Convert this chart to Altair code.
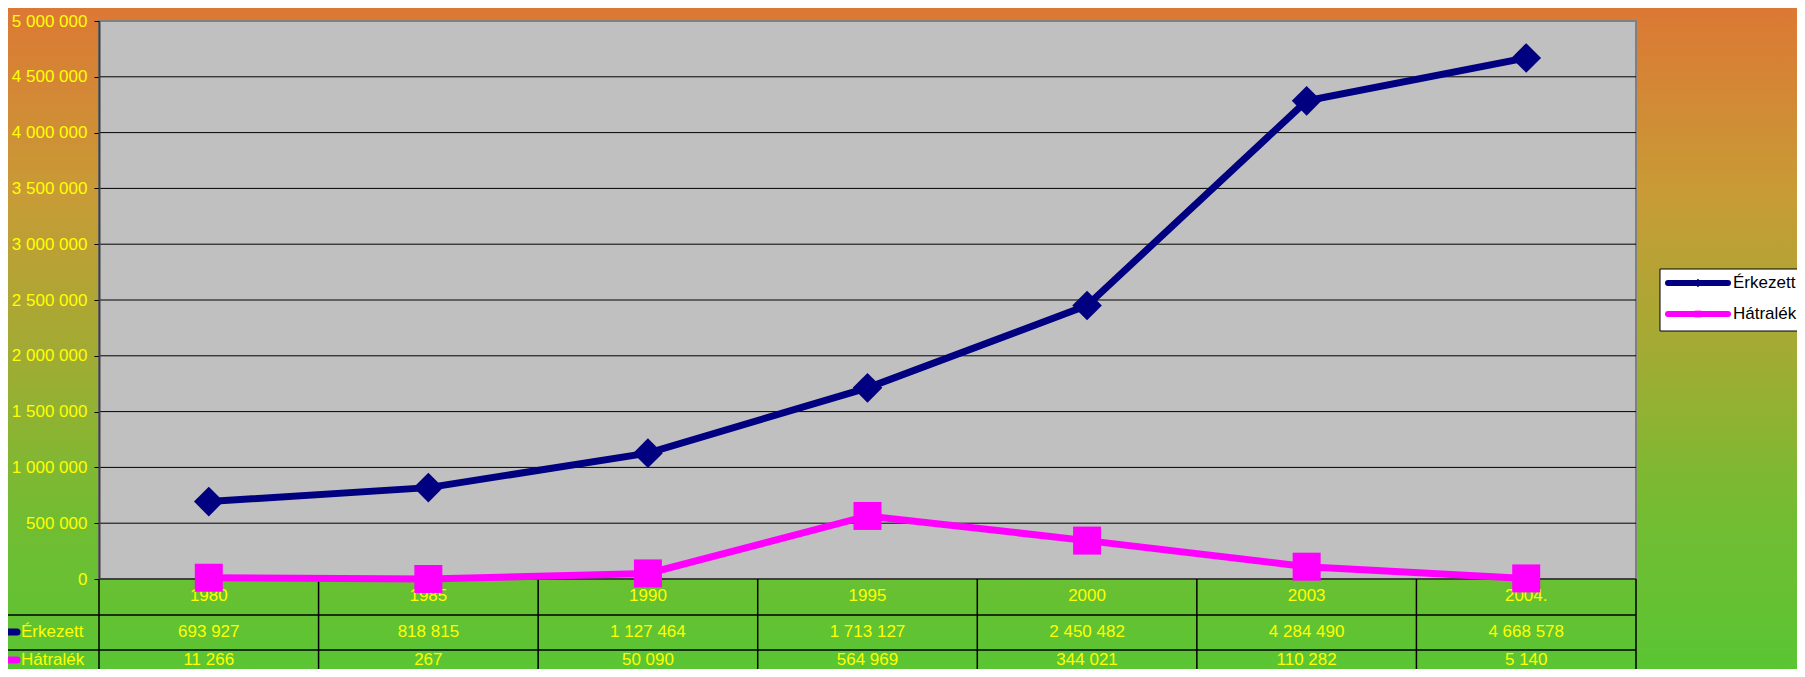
import altair as alt
import pandas as pd

# ---- data ----
years = ["1980", "1985", "1990", "1995", "2000", "2003", "2004."]
erkezett = [693927, 818815, 1127464, 1713127, 2450482, 4284490, 4668578]
hatralek = [11266, 267, 50090, 564969, 344021, 110282, 5140]
series_names = ["Érkezett", "Hátralék"]
series_colors = ["#000080", "#FF00FF"]
y_ticks = [0, 500000, 1000000, 1500000, 2000000, 2500000, 3000000,
           3500000, 4000000, 4500000, 5000000]

# ---- layout ----
W, H = 1537, 558
PAD = {"left": 91, "top": 13, "right": 161, "bottom": 90}
FONT = "Liberation Sans"
YEL = "#FFFF00"
FS = 17

df_e = pd.DataFrame({"idx": list(range(len(years))), "year": years, "value": erkezett})
df_h = pd.DataFrame({"idx": list(range(len(years))), "year": years, "value": hatralek})
one = pd.DataFrame({"k": [0]})

xs = alt.Scale(domain=[-0.5, len(years) - 0.5])
ys = alt.Scale(domain=[0, 5000000])
X = alt.X("idx:Q", scale=xs, axis=None)

yaxis = alt.Axis(values=y_ticks, format=",d", title=None, grid=False,
                 labelColor=YEL, labelFont=FONT, labelFontSize=FS,
                 labelPadding=7, tickSize=5, tickColor="black",
                 domainColor="#404040", domainWidth=2, zindex=1)
Y = alt.Y("value:Q", scale=ys, axis=yaxis)

grad = alt.LinearGradient(
    gradient="linear", x1=0, y1=0, x2=0, y2=1,
    stops=[
        alt.GradientStop(offset=0.0, color="#DC7834"),
        alt.GradientStop(offset=0.28, color="#C89B36"),
        alt.GradientStop(offset=0.52, color="#A2AB33"),
        alt.GradientStop(offset=0.76, color="#74BC32"),
        alt.GradientStop(offset=1.0, color="#5AC532"),
    ],
)

bg = alt.Chart(one).mark_rect(fill=grad).encode(
    x=alt.value(-PAD["left"]), x2=alt.value(W + PAD["right"]),
    y=alt.value(-PAD["top"]), y2=alt.value(H + PAD["bottom"]))

plot_bg = alt.Chart(one).mark_rect(fill="#C0C0C0", stroke="#808080", strokeWidth=2).encode(
    x=alt.value(0), x2=alt.value(W), y=alt.value(0), y2=alt.value(H))

grid = alt.Chart(pd.DataFrame({"value": y_ticks[:-1]})).mark_rule(
    color="black", strokeWidth=1).encode(y=Y, x=alt.value(0), x2=alt.value(W))

line_e = alt.Chart(df_e).mark_line(color=series_colors[0], strokeWidth=7).encode(x=X, y=Y)
pts_e = alt.Chart(df_e).mark_point(shape="diamond", filled=True, size=880,
                                   color=series_colors[0], opacity=1).encode(x=X, y=Y)
line_h = alt.Chart(df_h).mark_line(color=series_colors[1], strokeWidth=7).encode(x=X, y=Y)
pts_h = alt.Chart(df_h).mark_point(shape="square", filled=True, size=784,
                                   color=series_colors[1], opacity=1).encode(x=X, y=Y)

# ---- data table below the plot ----
table_layers = []
for py in [H + 36, H + 71]:
    table_layers.append(alt.Chart(one).mark_rule(color="black", strokeWidth=1.5).encode(
        x=alt.value(-PAD["left"] - 8), x2=alt.value(W), y=alt.value(py)))
seps = pd.DataFrame({"s": [i - 0.5 for i in range(len(years) + 1)]})
table_layers.append(alt.Chart(seps).mark_rule(color="black", strokeWidth=1.5).encode(
    x=alt.X("s:Q", scale=xs, axis=None), y=alt.value(H), y2=alt.value(H + PAD["bottom"])))

txt = dict(color=YEL, font=FONT, fontSize=FS, baseline="middle", align="center")
table_layers.append(alt.Chart(df_e).mark_text(**txt).encode(
    x=X, y=alt.value(H + 17), text="year:N"))
table_layers.append(alt.Chart(df_e).mark_text(**txt).encode(
    x=X, y=alt.value(H + 53), text=alt.Text("value:Q", format=",d")))
table_layers.append(alt.Chart(df_h).mark_text(**txt).encode(
    x=X, y=alt.value(H + 81), text=alt.Text("value:Q", format=",d")))

for name, col, py in zip(series_names, series_colors, [H + 53, H + 81]):
    table_layers.append(alt.Chart(one).mark_rule(color=col, strokeWidth=7, strokeCap="round").encode(
        x=alt.value(-PAD["left"] - 4), x2=alt.value(-82), y=alt.value(py)))
    table_layers.append(alt.Chart(one).mark_text(
        color=YEL, font=FONT, fontSize=FS, baseline="middle", align="left", text=name).encode(
        x=alt.value(-78), y=alt.value(py)))

# ---- legend box on the right ----
legend_layers = [alt.Chart(one).mark_rect(fill="white", stroke="black", strokeWidth=1).encode(
    x=alt.value(1561), x2=alt.value(1710), y=alt.value(248), y2=alt.value(310))]
for name, col, py, shp, sz in zip(series_names, series_colors, [262, 293],
                                  ["diamond", "square"], [70, 45]):
    legend_layers.append(alt.Chart(one).mark_rule(color=col, strokeWidth=6, strokeCap="round").encode(
        x=alt.value(1569), x2=alt.value(1629), y=alt.value(py)))
    legend_layers.append(alt.Chart(one).mark_point(shape=shp, filled=True, size=sz,
                                                   color=col, opacity=1).encode(
        x=alt.value(1599), y=alt.value(py)))
    legend_layers.append(alt.Chart(one).mark_text(
        color="black", font=FONT, fontSize=FS, baseline="middle", align="left", text=name).encode(
        x=alt.value(1634), y=alt.value(py)))

chart = alt.layer(
    bg, plot_bg, grid, *table_layers, line_e, pts_e, line_h, pts_h, *legend_layers
).properties(
    width=W, height=H, padding=PAD,
    autosize=alt.AutoSizeParams(type="none"),
).configure(
    font=FONT,
    locale={"number": {"decimal": ",", "thousands": " ", "grouping": [3],
                       "currency": ["", " Ft"]}},
).configure_view(stroke="transparent")

chart.save("out.html", embed_options={"renderer": "svg", "actions": False})
